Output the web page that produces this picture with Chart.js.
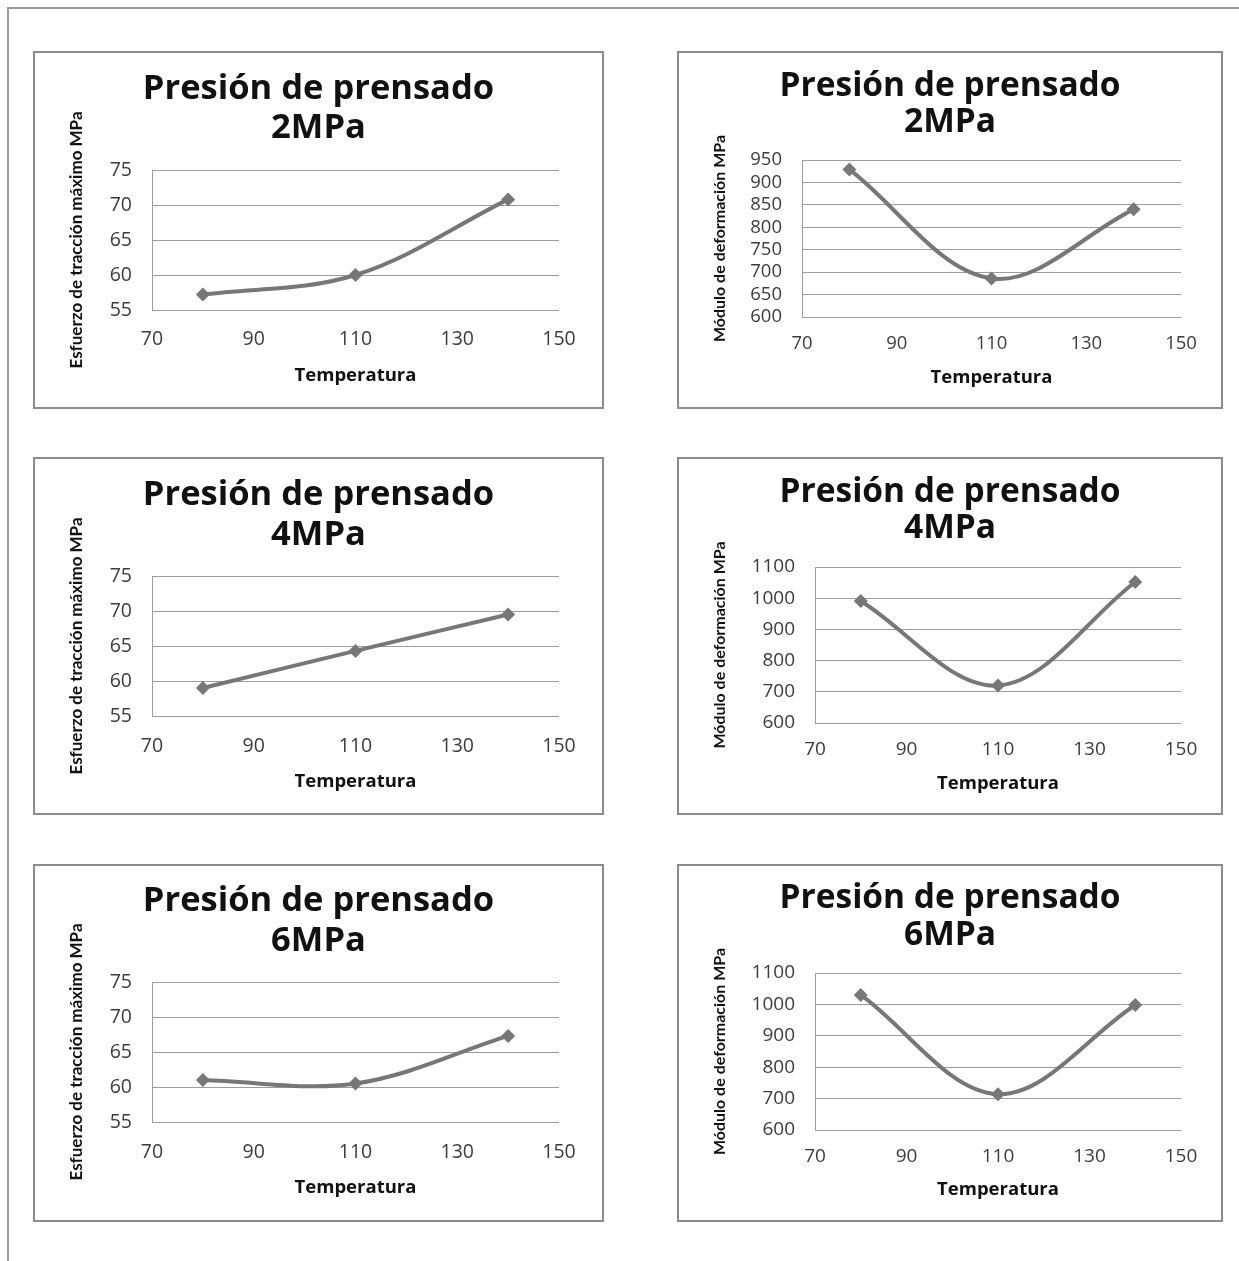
<!DOCTYPE html>
<html>
<head>
<meta charset="utf-8">
<script src="https://cdn.jsdelivr.net/npm/chart.js@4"></script>
<style>
  html, body { margin: 0; padding: 0; background: #fff; }
  body { width: 1239px; height: 1261px; position: relative; overflow: hidden; }
  .frame { position: absolute; left: 7px; top: 7px; width: 1240px; height: 1260px;
           border-top: 2px solid #9a9a9a; border-left: 2px solid #9a9a9a; }
  .box { position: absolute; box-sizing: border-box; border: 2px solid #8c8c8c; background: #fff; }
  .box canvas { display: block; }
</style>
</head>
<body>
<div class="frame"></div>
<script>
// Temperatures tested (x values) and the axis tick values
const temperatura = [80, 110, 140];
const xTicks = [70, 90, 110, 130, 150];

// Maximum tensile stress (MPa) for each pressing pressure
const esfuerzo2MPa = [57.2, 60.0, 70.8];
const esfuerzo4MPa = [59.0, 64.3, 69.5];
const esfuerzo6MPa = [61.0, 60.5, 67.3];

// Deformation modulus (MPa) for each pressing pressure
const modulo2MPa = [929, 686, 840];
const modulo4MPa = [991, 720, 1052];
const modulo6MPa = [1030, 714, 998];

// Y tick values
const esfuerzoTicks = [55, 60, 65, 70, 75];
const modulo2Ticks = [600, 650, 700, 750, 800, 850, 900, 950];
const modulo46Ticks = [600, 700, 800, 900, 1000, 1100];

// Text
const tituloLinea1 = 'Presión de prensado';
const presiones = ['2MPa', '4MPa', '6MPa'];
const ejeX = 'Temperatura';
const ejeEsfuerzo = 'Esfuerzo de tracción máximo MPa';
const ejeModulo = 'Módulo de deformación MPa';

const FONT = '"Open Sans", "Noto Sans", sans-serif';
const YTITLE_FONT = 'Lato, "Open Sans", sans-serif';
const LINE = '#777777';
const GRID = '#9c9c9c';
const TICK = '#3c3c3c';

// Panel layout (page coordinates)
const panels = [
  { values: esfuerzo2MPa, ticks: esfuerzoTicks, pres: presiones[0], yTitle: ejeEsfuerzo,
    box: [33, 51, 571, 358], plot: [152, 170, 559, 310], titleY: [89, 128], titleSize: 34.5,
    xTickY: 339, xTitleY: 376, yTitleX: 77, yTitleSize: 17, tickSize: 19.5 },
  { values: modulo2MPa, ticks: modulo2Ticks, pres: presiones[0], yTitle: ejeModulo,
    box: [677, 51, 546, 358], plot: [802, 160, 1181, 317], titleY: [86, 122], titleSize: 33.5,
    xTickY: 344, xTitleY: 378, yTitleX: 720, yTitleSize: 16, tickSize: 18.5 },
  { values: esfuerzo4MPa, ticks: esfuerzoTicks, pres: presiones[1], yTitle: ejeEsfuerzo,
    box: [33, 457, 571, 358], plot: [152, 576, 559, 716], titleY: [495, 535], titleSize: 34.5,
    xTickY: 746, xTitleY: 782, yTitleX: 77, yTitleSize: 17, tickSize: 19.5 },
  { values: modulo4MPa, ticks: modulo46Ticks, pres: presiones[1], yTitle: ejeModulo,
    box: [677, 457, 546, 358], plot: [815, 567, 1181, 723], titleY: [492, 528], titleSize: 33.5,
    xTickY: 750, xTitleY: 784, yTitleX: 720, yTitleSize: 16, tickSize: 19 },
  { values: esfuerzo6MPa, ticks: esfuerzoTicks, pres: presiones[2], yTitle: ejeEsfuerzo,
    box: [33, 864, 571, 358], plot: [152, 982, 559, 1122], titleY: [901, 941], titleSize: 34.5,
    xTickY: 1152, xTitleY: 1188, yTitleX: 77, yTitleSize: 17, tickSize: 19.5 },
  { values: modulo6MPa, ticks: modulo46Ticks, pres: presiones[2], yTitle: ejeModulo,
    box: [677, 864, 546, 358], plot: [815, 973, 1181, 1130], titleY: [898, 935], titleSize: 33.5,
    xTickY: 1157, xTitleY: 1190, yTitleX: 720, yTitleSize: 16, tickSize: 19 }
];

const XTITLE_SIZE = 18.5;

panels.forEach(p => {
  const [bx, by, bw, bh] = p.box;
  const div = document.createElement('div');
  div.className = 'box';
  Object.assign(div.style, { left: bx + 'px', top: by + 'px', width: bw + 'px', height: bh + 'px' });
  const canvas = document.createElement('canvas');
  const cw = bw - 4, ch = bh - 4, cx = bx + 2, cy = by + 2;
  canvas.width = cw; canvas.height = ch;
  canvas.style.width = cw + 'px'; canvas.style.height = ch + 'px';
  div.appendChild(canvas);
  document.body.appendChild(div);

  const [pl, pt, pr, pb] = p.plot;
  const titleLH = p.titleY[1] - p.titleY[0];
  const titlePadTop = (p.titleY[0] - cy) - titleLH / 2;
  const titlePadBottom = (pt - cy) - titlePadTop - 2 * titleLH;
  const yAxisWidth = pl - cx;
  const rightMargin = cx + cw - pr;
  const yTitleLH = p.yTitleSize * 1.2;
  const yTitlePad = (p.yTitleX - cx) - yTitleLH / 2;
  const xAxisHeight = cy + ch - pb;
  const xTitleLH = XTITLE_SIZE * 1.2;
  const xTitlePad = (cy + ch) - p.xTitleY - xTitleLH / 2;
  const xTickPad = (p.xTickY - pb) - p.tickSize * 0.6;
  const yMin = p.ticks[0], yMax = p.ticks[p.ticks.length - 1];
  const plain = v => String(v);
  const tickFont = { family: FONT, size: p.tickSize };

  new Chart(canvas, {
    type: 'scatter',
    data: {
      datasets: [{
        data: temperatura.map((t, i) => ({ x: t, y: p.values[i] })),
        showLine: true,
        borderColor: LINE,
        backgroundColor: LINE,
        borderWidth: 4,
        tension: 0.35,
        pointStyle: 'rectRot',
        pointRadius: 7,
        pointHoverRadius: 7,
        pointBorderWidth: 0
      }]
    },
    options: {
      responsive: false,
      animation: false,
      events: [],
      layout: { padding: 0 },
      plugins: {
        legend: { display: false },
        tooltip: { enabled: false },
        title: {
          display: true,
          text: [tituloLinea1, p.pres],
          color: '#111',
          font: { family: FONT, size: p.titleSize, weight: 'bold', lineHeight: titleLH / p.titleSize },
          padding: { top: titlePadTop, bottom: titlePadBottom }
        }
      },
      scales: {
        x: {
          type: 'linear', min: 70, max: 150,
          afterBuildTicks: s => { s.ticks = xTicks.map(v => ({ value: v })); },
          afterFit: s => { s.height = xAxisHeight; },
          grid: { display: false, drawTicks: false },
          border: { display: false },
          ticks: { padding: xTickPad, color: TICK, font: tickFont, callback: plain,
                   autoSkip: false, maxRotation: 0 },
          title: {
            display: true, text: ejeX, color: '#111',
            font: { family: FONT, size: XTITLE_SIZE, weight: 'bold', lineHeight: 1.2 },
            padding: { top: 0, bottom: xTitlePad }
          }
        },
        y: {
          type: 'linear', min: yMin, max: yMax,
          afterBuildTicks: s => { s.ticks = p.ticks.map(v => ({ value: v })); },
          afterFit: s => { s.width = yAxisWidth; },
          grid: { color: GRID, lineWidth: 1, drawTicks: false },
          border: { display: true, color: GRID, width: 1 },
          ticks: { padding: 20, color: TICK, font: tickFont, callback: plain, autoSkip: false },
          title: {
            display: true, text: p.yTitle, color: '#111',
            font: { family: YTITLE_FONT, size: p.yTitleSize, weight: 'bold', lineHeight: 1.2 },
            padding: { top: yTitlePad, bottom: 0 }
          }
        },
        // empty right-hand margin so the plot ends where it should while the title stays centred
        margen: {
          type: 'linear', position: 'right',
          afterFit: s => { s.width = rightMargin; },
          grid: { display: false, drawTicks: false },
          border: { display: false },
          ticks: { display: false }
        }
      }
    }
  });
});
</script>
</body>
</html>
